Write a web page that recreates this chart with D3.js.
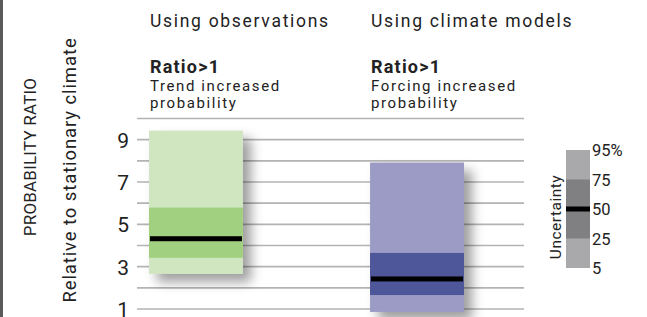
<!DOCTYPE html>
<html>
<head>
<meta charset="utf-8">
<script src="https://cdn.jsdelivr.net/npm/d3@7"></script>
<style>
  body { margin: 0; background: #fff; }
  text { font-family: Roboto, "Open Sans", sans-serif; fill: #222; }
</style>
</head>
<body>
<div id="chart"></div>
<script>
// data
var groups = ["Using observations", "Using climate models"];
var headers = ["Ratio>1", "Ratio>1"];
var subLine1 = ["Trend increased", "Forcing increased"];
var subLine2 = ["probability", "probability"];
var p5  = [2.66, 0.86];
var p25 = [3.42, 1.66];
var p50 = [4.32, 2.42];
var p75 = [5.79, 3.65];
var p95 = [9.43, 7.92];
var lightColors = ["#cfe6c0", "#9b9bc6"];
var darkColors = ["#a1d180", "#4e579a"];
var gridValues = [1, 2, 3, 4, 5, 6, 7, 8, 9, 10];
var tickLabels = [1, 3, 5, 7, 9];
var legendLevels = ["5", "25", "50", "75", "95%"];

var width = 647, height = 317;

var svg = d3.select("#chart")
  .append("svg")
    .attr("width", width)
    .attr("height", height);

var defs = svg.append("defs");
var f = defs.append("filter").attr("id", "shadow")
  .attr("x", "-20%").attr("y", "-20%").attr("width", "160%").attr("height", "160%");
f.append("feDropShadow")
  .attr("dx", 8).attr("dy", 8).attr("stdDeviation", 6)
  .attr("flood-color", "#000").attr("flood-opacity", 0.38);

// left border
svg.append("rect").attr("x", 0).attr("y", 0).attr("width", 3).attr("height", height).attr("fill", "#5a5a5a");

var y = d3.scaleLinear().domain([1, 10]).range([309, 118.5]);
var x = d3.scaleBand().domain(groups).range([149, 464]).paddingInner(0.575).paddingOuter(0);

// grid lines
svg.append("g").selectAll("line")
  .data(gridValues)
  .enter().append("line")
    .attr("x1", 137).attr("x2", 524)
    .attr("y1", function(d) { return y(d); })
    .attr("y2", function(d) { return y(d); })
    .attr("stroke", "#b3b3b3")
    .attr("stroke-width", 1.6);

// tick labels
svg.append("g").selectAll("text")
  .data(tickLabels)
  .enter().append("text")
    .attr("x", 129)
    .attr("y", function(d) { return y(d) + 8; })
    .attr("text-anchor", "end")
    .style("font-size", "21px")
    .text(function(d) { return d; });

// bars
var bars = svg.append("g").selectAll("g")
  .data(groups)
  .enter().append("g");

bars.append("rect")
  .attr("x", function(d) { return x(d); })
  .attr("width", x.bandwidth())
  .attr("y", function(d, i) { return y(p95[i]); })
  .attr("height", function(d, i) { return y(p5[i]) - y(p95[i]); })
  .attr("fill", function(d, i) { return lightColors[i]; })
  .attr("filter", "url(#shadow)");

bars.append("rect")
  .attr("x", function(d) { return x(d); })
  .attr("width", x.bandwidth())
  .attr("y", function(d, i) { return y(p75[i]); })
  .attr("height", function(d, i) { return y(p25[i]) - y(p75[i]); })
  .attr("fill", function(d, i) { return darkColors[i]; });

bars.append("rect")
  .attr("x", function(d) { return x(d) + 1; })
  .attr("width", x.bandwidth() - 2)
  .attr("y", function(d, i) { return y(p50[i]) - 2.5; })
  .attr("height", 5)
  .attr("fill", "#000");

// headings
bars.append("text")
  .attr("x", function(d) { return x(d) + 1; })
  .attr("y", 27)
  .style("font-size", "17.5px")
  .style("letter-spacing", "1.7px")
  .text(function(d) { return d; });

bars.append("text")
  .attr("x", function(d) { return x(d) + 1; })
  .attr("y", 73)
  .style("font-size", "18px")
  .style("font-weight", "bold")
  .style("letter-spacing", "1.2px")
  .text(function(d, i) { return headers[i]; });

bars.append("text")
  .attr("x", function(d) { return x(d) + 1; })
  .attr("y", 91)
  .style("font-size", "15px")
  .style("letter-spacing", "1.6px")
  .text(function(d, i) { return subLine1[i]; });

bars.append("text")
  .attr("x", function(d) { return x(d) + 1; })
  .attr("y", 108)
  .style("font-size", "15px")
  .style("letter-spacing", "1.6px")
  .text(function(d, i) { return subLine2[i]; });

// y axis title
svg.append("text")
  .attr("transform", "translate(36,157) rotate(-90)")
  .attr("text-anchor", "middle")
  .style("font-size", "17px")
  .style("letter-spacing", "0.2px")
  .text("PROBABILITY RATIO");

svg.append("text")
  .attr("transform", "translate(76,170) rotate(-90)")
  .attr("text-anchor", "middle")
  .style("font-size", "18.5px")
  .style("letter-spacing", "0.9px")
  .text("Relative to stationary climate");

// legend
var ly = d3.scalePoint().domain(legendLevels).range([268, 150]);
var legendBands = [["5", "95%", "#a9a9ac"], ["25", "75", "#808083"]];
var lg = svg.append("g");
lg.selectAll("rect.band")
  .data(legendBands)
  .enter().append("rect")
    .attr("class", "band")
    .attr("x", 566).attr("width", 24)
    .attr("y", function(d) { return ly(d[1]); })
    .attr("height", function(d) { return ly(d[0]) - ly(d[1]); })
    .attr("fill", function(d) { return d[2]; });
lg.append("rect")
  .attr("x", 566).attr("width", 24)
  .attr("y", ly("50") - 2.5).attr("height", 5)
  .attr("fill", "#000");
lg.selectAll("text.lvl")
  .data(legendLevels)
  .enter().append("text")
    .attr("class", "lvl")
    .attr("x", 592)
    .attr("y", function(d) { return ly(d) + 6; })
    .style("font-size", "16.5px")
    .text(function(d) { return d; });
lg.append("text")
  .attr("transform", "translate(561,217) rotate(-90)")
  .attr("text-anchor", "middle")
  .style("font-size", "15.5px")
  .style("letter-spacing", "0.5px")
  .text("Uncertainty");
</script>
</body>
</html>
